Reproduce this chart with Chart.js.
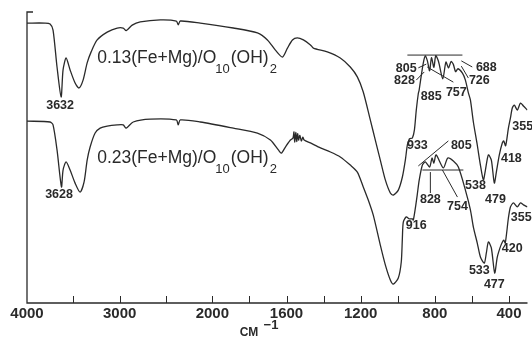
<!DOCTYPE html>
<html>
<head>
<meta charset="utf-8">
<script src="https://cdn.jsdelivr.net/npm/chart.js@4.4.1/dist/chart.umd.min.js"></script>
<style>
  html, body { margin: 0; padding: 0; background: #fff; }
</style>
</head>
<body>
<canvas id="ir" width="532" height="338"></canvas>
<script>
// ===== DATA =====
// wavenumber (cm-1) / relative transmittance, upper sample
const wnTop = [4000, 3805, 3751, 3719, 3676, 3632, 3611, 3578, 3535, 3481, 3438, 3395, 3351, 3308, 3243, 3135,
  3027, 2962, 2930, 2865, 2778, 2562, 2389, 2368, 2346, 2130, 1887, 1757, 1703, 1660, 1622, 1595, 1568, 1542,
  1509, 1471, 1455, 1380, 1310, 1256, 1218, 1186, 1148, 1121, 1094, 1067, 1040, 1024, 997, 975, 959, 948, 937,
  933, 921, 910, 900, 889, 885, 878, 862, 851, 840, 828, 818, 805, 795, 780, 757, 740, 726, 712, 700, 688, 675,
  651, 635, 619, 608, 592, 571, 554, 538, 527, 511, 495, 479, 468, 452, 436, 428, 418, 403, 392, 382, 371, 355,
  338, 322, 301];
const tTop = [96.2, 96.2, 95.9, 93.8, 81.1, 70.8, 80.1, 84.2, 80.1, 75.6, 73.9, 76.6, 82.5, 86.3, 90.4, 93.1,
  94.5, 94.5, 93.6, 95.5, 96.6, 97.3, 96.9, 95.6, 96.9, 96.2, 94.5, 92.8, 90.4, 86.9, 84.5, 87.6, 90.4, 91.1,
  90.4, 88.7, 87.6, 86.3, 84.2, 81.1, 77.7, 72.5, 62.9, 56.0, 49.1, 42.3, 37.8, 37.1, 38.8, 43.3, 49.1, 54.3, 56.4,
  56.5, 56.7, 59.5, 66.3, 72.0, 73.0, 76.0, 82.5, 84.9, 83.2, 79.8, 84.3, 81.0, 85.0, 83.0, 77.0, 82.8, 80.8,
  83.0, 82.0, 79.5, 80.5, 79.0, 76.6, 72.2, 69.8, 62.2, 54.3, 47.4, 42.3, 45.7, 50.9, 49.1, 41.2, 45.0, 50.9,
  55.0, 55.7, 54.0, 60.1, 63.6, 67.0, 68.0, 66.3, 68.7, 67.7, 66.3];

// lower sample
const wnBottom = [4000, 3751, 3719, 3676, 3628, 3611, 3578, 3535, 3481, 3427, 3384, 3351, 3319, 3265, 3211,
  3135, 3027, 2962, 2930, 2854, 2670, 2389, 2368, 2346, 2130, 1887, 1757, 1687, 1644, 1628, 1606, 1579, 1565,
  1560, 1556, 1550, 1545, 1540, 1535, 1528, 1520, 1512, 1505, 1471, 1417, 1363, 1310, 1256, 1218, 1186, 1159,
  1132, 1094, 1067, 1040, 1024, 997, 981, 975, 970, 954, 937, 921, 916, 905, 895, 884, 867, 851, 828, 815, 805,
  793, 754, 730, 700, 673, 635, 608, 592, 571, 554, 533, 522, 511, 495, 477, 463, 447, 436, 428, 420, 403, 392,
  376, 355, 338, 322, 301];
const tBottom = [62.5, 62.2, 61.2, 52.6, 39.9, 45.7, 48.5, 45.7, 41.2, 38.1, 41.6, 49.1, 53.6, 58.4, 60.1,
  60.8, 61.2, 61.2, 60.1, 62.2, 63.2, 62.9, 61.2, 62.9, 62.2, 60.1, 58.4, 56.0, 52.6, 51.5, 53.6, 56.0, 56.7,
  58.8, 55.3, 58.6, 55.5, 58.2, 56.0, 57.6, 55.7, 57.0, 56.0, 55.0, 53.3, 51.9, 50.2, 47.4, 45.0, 39.9, 35.4,
  30.2, 19.9, 13.1, 7.9, 6.5, 8.6, 14.1, 22.3, 27.8, 29.6, 28.9, 28.9, 28.5, 32.6, 37.1, 42.3, 47.4, 48.5, 46.7,
  49.8, 48.1, 50.9, 46.4, 49.8, 48.8, 46.7, 38.8, 32.0, 26.1, 20.6, 15.8, 13.7, 17.2, 21.0, 18.9, 10.3, 15.8,
  19.2, 20.9, 21.6, 20.6, 29.2, 33.0, 34.4, 33.0, 34.4, 33.7, 33.0];

const tickMajor = [4000, 3000, 2000, 1600, 1200, 800, 400];
const tickMinor = [3500, 2500, 1800, 1400, 1000, 600];
const sampleTop = '0.13';
const sampleBottom = '0.23';
const peaksTop = ['3632', '805', '828', '885', '757', '688', '726', '933', '538', '479', '418', '355'];
const peaksBottom = ['3628', '805', '828', '754', '916', '533', '477', '420', '355'];

// ===== AXIS TRANSFORM =====
// above 2000 cm-1 the axis runs at half scale
const toAxis = w => (w > 2000 ? 2000 + (w - 2000) / 2 : w);

// label anchors (wavenumber, transmittance) in the same order as the peak lists
const spotsTop = [[3643, 68.0], [954, 80.4], [964, 76.3], [819, 70.8], [684, 72.2], [522, 80.8], [560, 76.3],
  [894, 54.0], [581, 40.2], [473, 35.7], [387, 49.8], [326, 60.8]];
const spotsBottom = [[3654, 37.1], [657, 54.0], [824, 35.7], [678, 33.3], [900, 26.5], [560, 11.0],
  [479, 6.5], [382, 18.6], [334, 29.2]];

// reference baselines and leader lines: [w1, t1, w2, t2]
const leaders = [
  [948, 85.2, 651, 85.2],
  [889, 80.8, 846, 82.1],
  [900, 76.6, 857, 79.4],
  [841, 81.1, 700, 75.9],
  [598, 81.1, 657, 83.2],
  [619, 77.3, 657, 81.4],
  [867, 45.7, 646, 45.7],
  [889, 47.1, 727, 55.7],
  [824, 37.8, 824, 45.0],
  [759, 45.7, 678, 36.4]
];

const FONT = '"Liberation Sans", Arial, sans-serif';
const INK = '#2a2a2a';

const decorations = {
  id: 'decorations',
  afterDraw(chart) {
    const { ctx, chartArea: a, scales: { x, y } } = chart;
    const px = w => x.getPixelForValue(toAxis(w));
    const py = v => y.getPixelForValue(v);

    ctx.save();
    ctx.strokeStyle = INK;
    ctx.fillStyle = INK;

    // frame: left axis with a small stub at the top, bottom axis
    ctx.lineWidth = 1.3;
    ctx.beginPath();
    ctx.moveTo(a.left + 6, a.top);
    ctx.lineTo(a.left, a.top);
    ctx.lineTo(a.left, a.bottom);
    ctx.lineTo(a.right, a.bottom);
    ctx.stroke();

    // inward tick marks
    ctx.lineWidth = 1;
    ctx.beginPath();
    tickMajor.concat(tickMinor).forEach(t => {
      if (t === 4000) return;
      const tx = Math.round(px(t)) + 0.5;
      ctx.moveTo(tx, a.bottom);
      ctx.lineTo(tx, a.bottom - 7);
    });
    ctx.stroke();

    // tick labels
    ctx.font = 'bold 15px ' + FONT;
    ctx.textAlign = 'center';
    ctx.textBaseline = 'middle';
    tickMajor.forEach(t => ctx.fillText(String(t), px(t), a.bottom + 11));

    // unit
    ctx.font = 'bold 12px ' + FONT;
    ctx.fillText('CM', 249, a.bottom + 30);
    ctx.font = 'bold 13px ' + FONT;
    ctx.fillText('\u22121', 271, a.bottom + 22);

    // leaders
    ctx.lineWidth = 1;
    ctx.beginPath();
    leaders.forEach(([w1, t1, w2, t2]) => {
      ctx.moveTo(px(w1), py(t1));
      ctx.lineTo(px(w2), py(t2));
    });
    ctx.stroke();

    // peak labels
    ctx.font = 'bold 12.5px ' + FONT;
    peaksTop.forEach((s, i) => ctx.fillText(s, px(spotsTop[i][0]), py(spotsTop[i][1])));
    peaksBottom.forEach((s, i) => ctx.fillText(s, px(spotsBottom[i][0]), py(spotsBottom[i][1])));

    // sample formulas
    const formula = (ratio, w, v) => {
      let cx = px(w);
      const cy = py(v);
      ctx.textAlign = 'left';
      ctx.font = '17.5px ' + FONT;
      const head = ratio + '(Fe+Mg)/O';
      ctx.fillText(head, cx, cy);
      cx += ctx.measureText(head).width;
      ctx.font = '13px ' + FONT;
      ctx.fillText('10', cx - 1, cy + 11);
      cx += ctx.measureText('10').width;
      ctx.font = '17.5px ' + FONT;
      ctx.fillText('(OH)', cx, cy);
      cx += ctx.measureText('(OH)').width;
      ctx.font = '13px ' + FONT;
      ctx.fillText('2', cx + 1, cy + 11);
    };
    formula(sampleTop, 3243, 84.2);
    formula(sampleBottom, 3243, 49.8);

    ctx.restore();
  }
};

const toPoints = (wn, t) => wn.map((w, i) => ({ x: toAxis(w), y: t[i] }));

new Chart(document.getElementById('ir'), {
  type: 'line',
  data: {
    datasets: [
      { data: toPoints(wnTop, tTop) },
      { data: toPoints(wnBottom, tBottom) }
    ]
  },
  options: {
    responsive: false,
    animation: false,
    events: [],
    layout: { padding: { left: 27, right: 4.5, top: 12, bottom: 35 } },
    elements: {
      line: { borderColor: INK, borderWidth: 1.3, tension: 0.25, fill: false },
      point: { radius: 0 }
    },
    plugins: { legend: { display: false }, tooltip: { enabled: false } },
    scales: {
      x: { type: 'linear', reverse: true, min: toAxis(300), max: toAxis(4000), display: false },
      y: { min: 0, max: 100, display: false }
    }
  },
  plugins: [decorations]
});
</script>
</body>
</html>
